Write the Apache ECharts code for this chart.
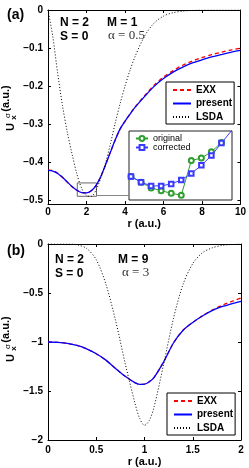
<!DOCTYPE html>
<html><head><meta charset="utf-8">
<script src="https://cdn.jsdelivr.net/npm/echarts@6/dist/echarts.min.js"></script>
<style>html,body{margin:0;padding:0;background:#fff}#c{width:249px;height:468px}</style>
</head><body><div id="c"></div><script>
// ---------- data: panel (a)  N=2, M=1, alpha=0.5 ----------
const rA = [0,0.25,0.5,0.75,1,1.25,1.5,1.75,2,2.25,2.5,2.75,3,3.25,3.5,3.75,4,4.25,4.5,5,5.5,6,6.5,7,7.5,8,8.5,9,9.5,10];
const exxA = [-0.420,-0.421,-0.428,-0.439,-0.452,-0.464,-0.473,-0.479,-0.480,-0.474,-0.460,-0.436,-0.405,-0.372,-0.340,-0.312,-0.292,-0.274,-0.256,-0.226,-0.198,-0.176,-0.159,-0.145,-0.134,-0.125,-0.117,-0.111,-0.105,-0.100];
const presentA = [-0.421,-0.423,-0.429,-0.439,-0.451,-0.463,-0.473,-0.479,-0.480,-0.474,-0.460,-0.436,-0.405,-0.372,-0.340,-0.312,-0.292,-0.274,-0.257,-0.228,-0.201,-0.180,-0.163,-0.150,-0.139,-0.131,-0.123,-0.117,-0.111,-0.106];
const lsdaA = [0,-0.07,-0.165,-0.25,-0.32,-0.378,-0.43,-0.468,-0.487,-0.489,-0.472,-0.44,-0.40,-0.35,-0.295,-0.245,-0.20,-0.16,-0.125,-0.07,-0.035,-0.016,-0.007,-0.003,-0.001,0,0,0,0,0];
// zoom box in (a) and inset data
const zoomBoxR = [1.52, 2.52];
const zoomBoxU = [-0.4537, -0.4888];
const insetR = [1.5,1.6,1.7,1.8,1.9,2.0,2.1,2.2,2.3,2.4,2.6];
const insetOriginal = [-0.4746,-0.4784,-0.4821,-0.4839,-0.4856,-0.4869,-0.4643,-0.4626,-0.4586,-0.4525,null];
const insetCorrected = [-0.4746,-0.4784,-0.4808,-0.4808,-0.4795,-0.4770,-0.4727,-0.4674,-0.4610,-0.4529,-0.4367];
// ---------- data: panel (b)  N=2, M=9, alpha=3 ----------
const rB = [0,0.1,0.2,0.3,0.4,0.5,0.6,0.7,0.8,0.9,0.95,1.0,1.05,1.1,1.2,1.3,1.4,1.5,1.6,1.7,1.8,1.9,2.0];
const exxB = [-1.0,-1.003,-1.013,-1.035,-1.07,-1.12,-1.185,-1.27,-1.35,-1.415,-1.432,-1.43,-1.405,-1.36,-1.2,-1.01,-0.88,-0.8,-0.733,-0.675,-0.628,-0.588,-0.55];
const presentB = [-1.0,-1.003,-1.013,-1.035,-1.07,-1.12,-1.185,-1.27,-1.35,-1.415,-1.432,-1.43,-1.405,-1.36,-1.2,-1.01,-0.88,-0.8,-0.735,-0.68,-0.64,-0.61,-0.585];
const lsdaB = [0,0,0,-0.008,-0.045,-0.16,-0.41,-0.78,-1.22,-1.62,-1.78,-1.85,-1.80,-1.66,-1.22,-0.76,-0.41,-0.2,-0.09,-0.04,-0.015,-0.005,0];
// ---------- tick labels ----------
const xTicksA = [0,2,4,6,8,10];
const yTicksA = [0,-0.1,-0.2,-0.3,-0.4,-0.5];
const xTicksB = [0,0.5,1,1.5,2];
const yTicksB = [0,-0.5,-1,-1.5,-2];
const seriesNames = ['EXX','present','LSDA'];
const insetNames = ['original','corrected'];
const xName = 'r (a.u.)';

const SANS = '"Liberation Sans", Arial, Helvetica, sans-serif';
const SERIF = '"Liberation Serif", "Times New Roman", serif';
const pair = (xs, ys) => xs.map((x, i) => [x, ys[i]]);
const fmt = v => { if (Math.abs(v) < 1e-9) return '0'; return String(+v.toFixed(2)).replace('-', '\u2212'); };

function xAx(grid, min, max, ticks, pos, labels, margin) {
  return {
    type: 'value', gridIndex: grid, min, max, position: pos,
    axisLine: { show: true, onZero: false, lineStyle: { color: '#000', width: 1 } },
    axisTick: { show: true, inside: true, length: 3, customValues: ticks, lineStyle: { color: '#000' } },
    axisLabel: { show: labels, margin, customValues: ticks, color: '#000', fontFamily: SANS, fontWeight: 'bold', fontSize: 10, formatter: fmt },
    splitLine: { show: false },
    name: labels ? xName : '', nameLocation: 'middle', nameGap: labels ? (margin + 11) : 0,
    nameTextStyle: { color: '#000', fontFamily: SANS, fontWeight: 'bold', fontSize: 11 }
  };
}
function yAx(grid, min, max, ticks, pos, labels) {
  return {
    type: 'value', gridIndex: grid, min, max, position: pos,
    axisLine: { show: true, onZero: false, lineStyle: { color: '#000', width: 1 } },
    axisTick: { show: true, inside: true, length: 3, customValues: ticks, lineStyle: { color: '#000' } },
    axisLabel: { show: labels, margin: 5, customValues: ticks, color: '#000', fontFamily: SANS, fontWeight: 'bold', fontSize: 10, formatter: fmt },
    splitLine: { show: false }
  };
}

const chart = echarts.init(document.getElementById('c'));
const lineSeries = (name, xi, yi, data, color, type, width, z) => ({
  name, type: 'line', xAxisIndex: xi, yAxisIndex: yi, data, symbol: 'none', smooth: 0.3,
  lineStyle: { color, type, width }, itemStyle: { color }, z, silent: true
});

const legendCommon = {
  orient: 'vertical', backgroundColor: '#fff', borderColor: '#000', borderWidth: 1, borderRadius: 0,
  padding: [3, 2, 2, 6], itemWidth: 18, itemHeight: 10, itemGap: 3.5, selectedMode: false,
  itemStyle: { opacity: 0 },
  textStyle: { fontFamily: SANS, fontWeight: 'bold', fontSize: 10, color: '#000' },
  data: seriesNames
};

const ylab = (dy) => ([
  { type: 'text', x: 11, y: 127 + dy, rotation: Math.PI / 2, style: { text: 'U', font: 'bold 11px ' + SANS, fill: '#000', align: 'center', verticalAlign: 'middle' } },
  { type: 'text', x: 7.5, y: 115.5 + dy, rotation: Math.PI / 2, style: { text: '\u03c3', font: '8px ' + SANS, fill: '#000', align: 'center', verticalAlign: 'middle' } },
  { type: 'text', x: 13.5, y: 117.5 + dy, rotation: Math.PI / 2, style: { text: 'x', font: 'bold 8px ' + SANS, fill: '#000', align: 'center', verticalAlign: 'middle' } },
  { type: 'text', x: 6, y: 98.5 + dy, rotation: Math.PI / 2, style: { text: '(a.u.)', font: 'bold 11px ' + SANS, fill: '#000', align: 'center', verticalAlign: 'middle' } }
]);
const txt = (text, x, y, font, fill) => ({ type: 'text', x, y, z: 10, style: { text, font, fill: fill || '#000', align: 'left', verticalAlign: 'middle' } });

chart.setOption({
  animation: false,
  backgroundColor: '#fff',
  grid: [
    { left: 48, top: 10, width: 193, height: 194 },
    { left: 48, top: 244, width: 193, height: 196 },
    { left: 129, top: 131, width: 103, height: 69, show: true, borderColor: '#222', borderWidth: 1, backgroundColor: '#fff' }
  ],
  xAxis: [
    xAx(0, 0, 10, xTicksA, 'bottom', true, 3),
    xAx(0, 0, 10, xTicksA, 'top', false, 3),
    xAx(1, 0, 2, xTicksB, 'bottom', true, 5),
    xAx(1, 0, 2, xTicksB, 'top', false, 5),
    { type: 'value', gridIndex: 2, min: 1.48, max: 2.505, show: false }
  ],
  yAxis: [
    yAx(0, -0.509, 0, yTicksA, 'left', true),
    yAx(0, -0.509, 0, yTicksA, 'right', false),
    yAx(1, -2, 0, yTicksB, 'left', true),
    yAx(1, -2, 0, yTicksB, 'right', false),
    { type: 'value', gridIndex: 2, min: -0.49, max: -0.445, show: false }
  ],
  legend: [
    Object.assign({}, legendCommon, { left: 166, top: 82 }),
    Object.assign({}, legendCommon, { left: 167, top: 393 }),
    { data: insetNames, orient: 'vertical', left: 135, top: 134, padding: 0, itemWidth: 12, itemHeight: 6, itemGap: 0,
      selectedMode: false, textStyle: { fontFamily: SANS, fontSize: 9, color: '#000', lineHeight: 9 } }
  ],
  series: [
    lineSeries('EXX', 0, 0, pair(rA, exxA), '#ff0000', [4, 3], 1.3, 2),
    Object.assign(lineSeries('present', 0, 0, pair(rA, presentA), '#0000ff', 'solid', 1.3, 3), {
      markArea: { silent: true, itemStyle: { color: 'rgba(0,0,0,0)', borderColor: '#666', borderWidth: 1 },
        data: [[{ coord: [zoomBoxR[0], zoomBoxU[0]] }, { coord: [zoomBoxR[1], zoomBoxU[1]] }]] },
      markLine: { silent: true, symbol: 'none', label: { show: false }, lineStyle: { color: '#888', type: 'solid', width: 1 },
        data: [[{ coord: [zoomBoxR[1], -0.4865] }, { coord: [4.25, -0.4865] }]] }
    }),
    lineSeries('LSDA', 0, 0, pair(rA, lsdaA), '#000', [1, 2], 1, 4),
    lineSeries('EXX', 2, 2, pair(rB, exxB), '#ff0000', [4, 3], 1.3, 2),
    lineSeries('present', 2, 2, pair(rB, presentB), '#0000ff', 'solid', 1.3, 3),
    lineSeries('LSDA', 2, 2, pair(rB, lsdaB), '#000', [1, 2], 1, 4),
    { name: 'original', type: 'line', xAxisIndex: 4, yAxisIndex: 4, data: pair(insetR, insetOriginal), symbol: 'emptyCircle', symbolSize: 5,
      lineStyle: { color: '#2e9e2e', width: 1 }, itemStyle: { color: '#2e9e2e', borderWidth: 1 }, z: 6, silent: true },
    { name: 'corrected', type: 'line', xAxisIndex: 4, yAxisIndex: 4, data: pair(insetR, insetCorrected), symbol: 'emptyRect', symbolSize: 4.5,
      lineStyle: { color: '#3a3aff', width: 1 }, itemStyle: { color: '#3a3aff', borderWidth: 1 }, z: 7, silent: true }
  ],
  graphic: [
    ...ylab(0), ...ylab(231),
    txt('(a)', 7, 15, 'bold 14px ' + SANS),
    txt('N = 2', 60, 23, 'bold 12px ' + SANS),
    txt('M = 1', 107, 23, 'bold 12px ' + SANS),
    txt('S = 0', 60, 37, 'bold 12px ' + SANS),
    txt('\u03b1 = 0.5', 108, 36, '13px ' + SERIF, '#333'),
    txt('(b)', 7, 251, 'bold 14px ' + SANS),
    txt('N = 2', 55, 260, 'bold 12px ' + SANS),
    txt('M = 9', 118, 260, 'bold 12px ' + SANS),
    txt('S = 0', 55, 274, 'bold 12px ' + SANS),
    txt('\u03b1 = 3', 122, 273, '13px ' + SERIF, '#333')
  ]
});
</script></body></html>
